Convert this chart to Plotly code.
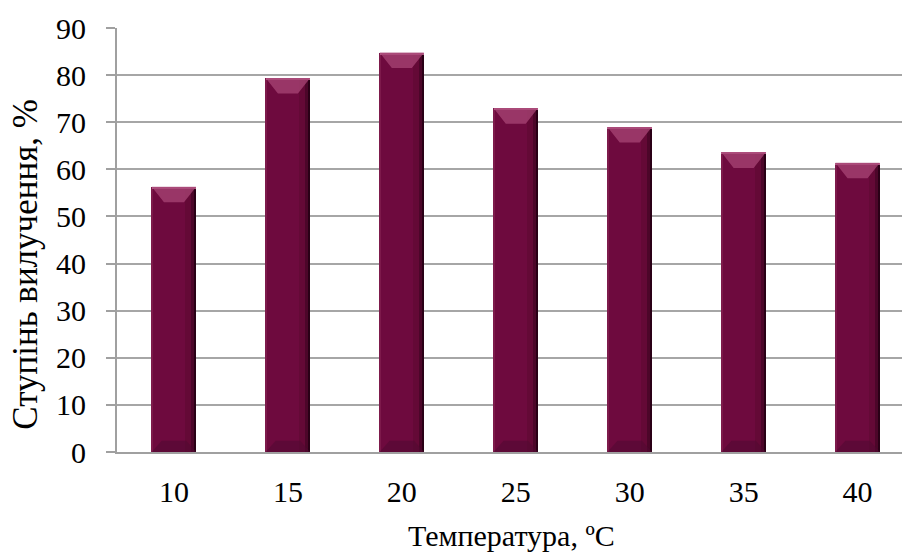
import plotly.graph_objects as go

# Extraction degree vs. temperature
temperatures = ["10", "15", "20", "25", "30", "35", "40"]
extraction = [56.3, 79.4, 84.8, 73.0, 69.0, 63.6, 61.4]

x_title = "Температура, ºC"
y_title = "Ступінь вилучення, %"
y_ticks = [0, 10, 20, 30, 40, 50, 60, 70, 80, 90]

FONT = "Liberation Serif, Times New Roman, serif"
BAR = "#6e0a3e"
HALF = 0.195           # half bar width in category units
idx = list(range(len(temperatures)))

fig = go.Figure()

# main bar body
fig.add_trace(go.Bar(x=idx, y=extraction, width=2 * HALF, marker_color=BAR,
                     marker_line_width=0, hoverinfo="skip"))
# right-edge shading to give a rounded look
for off, w, col in [(0.10, 0.05, "#640936"), (0.15, 0.025, "#4c0629"),
                    (0.175, 0.02, "#2a0016")]:
    fig.add_trace(go.Bar(x=idx, y=extraction, width=w, offset=off,
                         marker_color=col, marker_line_width=0, hoverinfo="skip"))
# left-edge slight highlight
fig.add_trace(go.Bar(x=idx, y=extraction, width=0.012, offset=-HALF,
                     marker_color="#7d1a4b", marker_line_width=0, hoverinfo="skip"))

# top bevel (trapezoid, wide at top) and bottom bevel (wide at bottom)
top_x, top_y, bot_x, bot_y = [], [], [], []
for i, v in zip(idx, extraction):
    top_x += [i - HALF, i + HALF, i + HALF * 0.45, i - HALF * 0.45, i - HALF, None]
    top_y += [v, v, v - 3.3, v - 3.3, v, None]
    bot_x += [i - HALF, i + HALF, i + HALF * 0.55, i - HALF * 0.55, i - HALF, None]
    bot_y += [0, 0, 2.4, 2.4, 0, None]
fig.add_trace(go.Scatter(x=top_x, y=top_y, fill="toself", mode="lines",
                         line=dict(width=0), fillcolor="rgba(168,70,118,0.75)",
                         hoverinfo="skip"))
fig.add_trace(go.Scatter(x=bot_x, y=bot_y, fill="toself", mode="lines",
                         line=dict(width=0), fillcolor="rgba(80,10,50,0.55)",
                         hoverinfo="skip"))
# thin bright rim along the top edge
fig.add_trace(go.Bar(x=idx, y=[0.45] * len(idx), base=[v - 0.45 for v in extraction],
                     width=2 * HALF, marker_color="#b15a85", marker_line_width=0,
                     hoverinfo="skip"))

fig.update_layout(
    width=902, height=554,
    margin=dict(l=117, r=0, t=28, b=102),
    paper_bgcolor="white", plot_bgcolor="white",
    barmode="overlay", bargap=0, showlegend=False,
    font=dict(family=FONT, size=30, color="black"),
    xaxis=dict(
        range=[-0.5, 6.39], tickmode="array", tickvals=idx, ticktext=temperatures,
        showgrid=False, zeroline=False, showline=True, linecolor="#a0a0a0",
        linewidth=2, ticks="", ticklabelstandoff=12,
        tickfont=dict(family=FONT, size=30, color="black"),
    ),
    yaxis=dict(
        range=[0, 90], tickmode="array", tickvals=y_ticks,
        showgrid=True, gridcolor="#a6a6a6", gridwidth=2, zeroline=False,
        showline=True, linecolor="#a0a0a0", linewidth=2,
        ticks="outside", ticklen=9, tickwidth=2, tickcolor="#a0a0a0",
        ticklabelstandoff=14,
        tickfont=dict(family=FONT, size=30, color="black"),
    ),
    annotations=[
        dict(text=x_title, xref="paper", yref="paper", x=0.502, y=-0.197,
             showarrow=False, font=dict(family=FONT, size=30, color="black"),
             xanchor="center", yanchor="middle"),
        dict(text=y_title, xref="paper", yref="paper", x=-0.117, y=0.442,
             showarrow=False, textangle=-90,
             font=dict(family=FONT, size=35, color="black"),
             xanchor="center", yanchor="middle"),
    ],
)

fig.write_html("out.html")
